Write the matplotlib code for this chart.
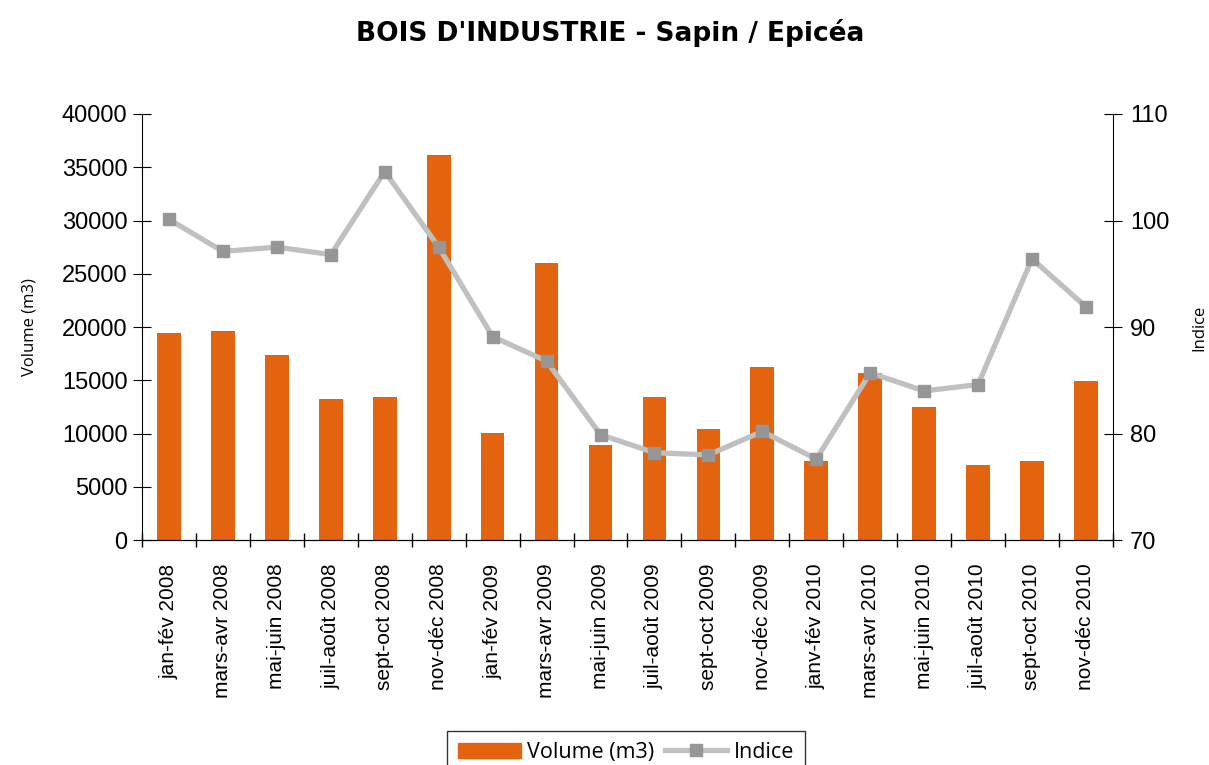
import numpy as np
import matplotlib.pyplot as plt
from matplotlib.patches import Patch
from matplotlib.lines import Line2D

periodes = ["jan-fév 2008", "mars-avr 2008", "mai-juin 2008", "juil-août 2008",
            "sept-oct 2008", "nov-déc 2008", "jan-fév 2009", "mars-avr 2009",
            "mai-juin 2009", "juil-août 2009", "sept-oct 2009", "nov-déc 2009",
            "janv-fév 2010", "mars-avr 2010", "mai-juin 2010", "juil-août 2010",
            "sept-oct 2010", "nov-déc 2010"]
volume = [19450, 19620, 17370, 13240, 13430, 36150, 10050, 26000, 8920,
          13430, 10420, 16240, 7420, 15680, 12490, 7040, 7420, 14930]
indice = [100.1, 97.1, 97.5, 96.8, 104.6, 97.5, 89.1, 86.8, 79.9,
          78.2, 78.0, 80.2, 77.6, 85.7, 84.0, 84.6, 96.4, 91.9]

plt.rcParams['font.family'] = ['Liberation Sans', 'DejaVu Sans']

orange = "#E3630F"
x = np.arange(len(periodes))

fig = plt.figure(figsize=(12.09, 7.65), dpi=100)
ax = fig.add_axes([0.1175, 0.294, 0.803, 0.557])
ax2 = ax.twinx()

ax.bar(x, volume, width=0.44, color=orange, zorder=2)
ax2.plot(x, indice, color="#C0C0C0", lw=3.8, marker="s", markersize=9,
         markerfacecolor="#969696", markeredgecolor="#969696", zorder=3)

ax.set_xlim(-0.5, len(x) - 0.5)
ax.set_ylim(0, 40000)
ax.set_yticks(np.arange(0, 40001, 5000))
ax2.set_ylim(70, 110)
ax2.set_yticks([70, 80, 90, 100, 110])

# ticks between categories, labels centred
ax.set_xticks(x)
ax.set_xticklabels(periodes, rotation=90, fontsize=15)
ax.set_xticks(np.arange(-0.5, len(x), 1), minor=True)
ax.tick_params(axis="x", which="major", length=0, pad=17)
ax.tick_params(axis="x", which="minor", length=10, direction="inout", width=1)
ax.tick_params(axis="y", length=13, direction="inout", labelsize=17, pad=4)
ax2.tick_params(axis="y", length=13, direction="inout", labelsize=17, pad=6)

for a in (ax, ax2):
    a.spines["top"].set_visible(False)
ax.spines["right"].set_visible(False)
ax2.spines["left"].set_visible(False)

fig.text(0.024, 0.572, "Volume (m3)", rotation=90, fontsize=12,
         family="Open Sans", ha="center", va="center")
fig.text(0.992, 0.572, "Indice", rotation=90, fontsize=12,
         family="Open Sans", ha="center", va="center")

fig.suptitle("BOIS D'INDUSTRIE - Sapin / Epicéa", x=0.505, y=0.975, fontsize=19,
             fontweight="bold", family="DejaVu Sans")

handles = [Patch(color=orange, label="Volume (m3)"),
           Line2D([], [], color="#C0C0C0", lw=3.8, marker="s", markersize=9,
                  markerfacecolor="#969696", markeredgecolor="#969696",
                  label="Indice")]
leg = fig.legend(handles=handles, loc="lower center", bbox_to_anchor=(0.518, -0.025),
                 ncol=2, frameon=True, fancybox=False, edgecolor="black",
                 prop={"family": "Open Sans", "size": 15.5}, handlelength=2.9,
                 columnspacing=0.5, handletextpad=0.3, borderpad=0.5)
leg.get_frame().set_linewidth(1)

fig.savefig("out.png", dpi=100)
